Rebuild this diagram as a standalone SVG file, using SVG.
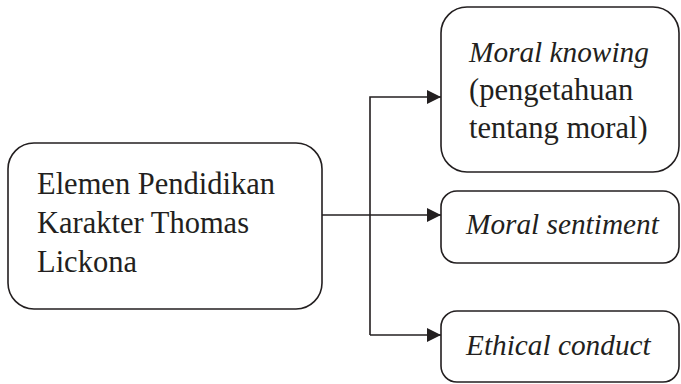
<svg xmlns="http://www.w3.org/2000/svg" width="681" height="384" viewBox="0 0 681 384">
  <style>
    .box { fill: #ffffff; stroke: #231f20; stroke-width: 1.6; }
    .txt { font-family: 'Liberation Serif', 'Times New Roman', 'DejaVu Serif', serif; font-size: 30.5px; fill: #231f20; }
    .it { font-style: italic; font-size: 29.3px; }
    .link { fill: none; stroke: #231f20; stroke-width: 1.6; }
  </style>
  <defs>
    <marker id="arrow" markerUnits="userSpaceOnUse" markerWidth="16" markerHeight="16" refX="14" refY="7" orient="auto">
      <path d="M0,0 L14,7 L0,14 Z" fill="#231f20"/>
    </marker>
  </defs>
  <rect width="681" height="384" fill="#ffffff"/>

  <g id="connectors">
    <path class="link" d="M322,215 L441,215" marker-end="url(#arrow)"/>
    <path class="link" d="M370,335 L370,97 L441,97" marker-end="url(#arrow)"/>
    <path class="link" d="M370,335 L441,335" marker-end="url(#arrow)"/>
  </g>

  <g id="node-elemen">
    <rect class="box" x="8" y="143" width="314" height="166" rx="26"/>
    <text class="txt" x="37" y="194">Elemen Pendidikan</text>
    <text class="txt" x="37" y="233">Karakter Thomas</text>
    <text class="txt" x="37" y="272">Lickona</text>
  </g>

  <g id="node-knowing">
    <rect class="box" x="441" y="7" width="238" height="165" rx="26"/>
    <text class="txt it" x="469" y="62">Moral knowing</text>
    <text class="txt" x="469" y="100">(pengetahuan</text>
    <text class="txt" x="469" y="138">tentang moral)</text>
  </g>

  <g id="node-sentiment">
    <rect class="box" x="441" y="191" width="238" height="72" rx="16"/>
    <text class="txt it" x="466" y="234">Moral sentiment</text>
  </g>

  <g id="node-conduct">
    <rect class="box" x="441" y="311" width="238" height="71" rx="16"/>
    <text class="txt it" x="466" y="355">Ethical conduct</text>
  </g>
</svg>
